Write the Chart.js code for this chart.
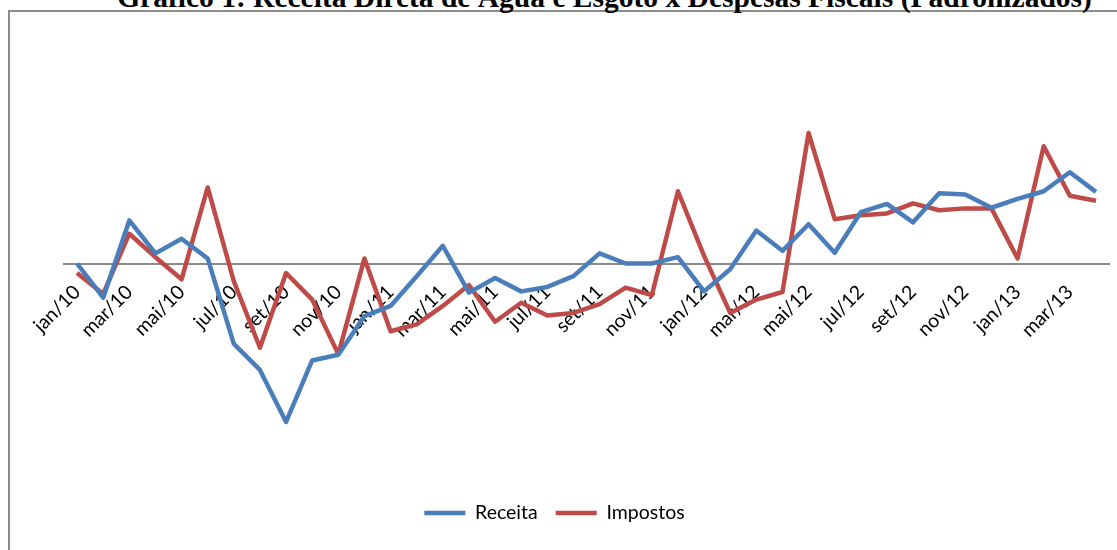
<!DOCTYPE html>
<html>
<head>
<meta charset="utf-8">
<script src="https://cdn.jsdelivr.net/npm/chart.js@4/dist/chart.umd.min.js"></script>
<style>
  html, body { margin: 0; padding: 0; background: #fff; overflow: hidden; width: 1117px; height: 550px; }
  #frame { position: absolute; left: 8px; top: 10px; width: 1300px; height: 700px;
           border-left: 2px solid #8c8c8c; border-top: 2px solid #8c8c8c; }
  #title { position: absolute; left: 46px; top: -17px; width: 1117px; text-align: center;
           font: bold 29.5px "Liberation Serif", serif; line-height: 29.5px; white-space: nowrap; color: #000; }
  #wrap { position: absolute; left: 0; top: 0; width: 1117px; height: 550px; }
</style>
</head>
<body>
<div id="frame"></div>
<div id="title">Gráfico 1: Receita Direta de Água e Esgoto x Despesas Fiscais (Padronizados)</div>
<div id="wrap"><canvas id="chart" width="1117" height="550"></canvas></div>
<script>
// Monthly categories, jan/2010 – abr/2013
const categories = [
  'jan/10','fev/10','mar/10','abr/10','mai/10','jun/10','jul/10','ago/10','set/10','out/10','nov/10','dez/10',
  'jan/11','fev/11','mar/11','abr/11','mai/11','jun/11','jul/11','ago/11','set/11','out/11','nov/11','dez/11',
  'jan/12','fev/12','mar/12','abr/12','mai/12','jun/12','jul/12','ago/12','set/12','out/12','nov/12','dez/12',
  'jan/13','fev/13','mar/13','abr/13'
];

// Standardized series (z-scores)
const receita = [
  0.00, -0.54, 0.68, 0.16, 0.39, 0.08, -1.27, -1.68, -2.50, -1.53, -1.44, -0.83,
  -0.67, -0.20, 0.28, -0.46, -0.23, -0.44, -0.37, -0.20, 0.16, 0.00, 0.00, 0.10,
  -0.44, -0.09, 0.52, 0.20, 0.62, 0.17, 0.81, 0.94, 0.65, 1.11, 1.09, 0.88,
  1.02, 1.14, 1.44, 1.13
];
const impostos = [
  -0.15, -0.48, 0.47, 0.10, -0.25, 1.20, -0.28, -1.33, -0.15, -0.57, -1.43, 0.08,
  -1.07, -0.96, -0.67, -0.34, -0.92, -0.62, -0.82, -0.78, -0.64, -0.38, -0.50, 1.14,
  0.12, -0.78, -0.57, -0.45, 2.06, 0.70, 0.76, 0.79, 0.95, 0.84, 0.87, 0.87,
  0.08, 1.85, 1.07, 0.99
];

const axisFont = { family: 'Lato', size: 19.5 };

new Chart(document.getElementById('chart'), {
  type: 'line',
  data: {
    labels: categories,
    datasets: [
      { label: 'Receita', data: receita, borderColor: '#4A7EBB', backgroundColor: '#4A7EBB',
        borderWidth: 4.5, pointRadius: 0, tension: 0, borderJoinStyle: 'round' },
      { label: 'Impostos', data: impostos, borderColor: '#BE4B48', backgroundColor: '#BE4B48',
        borderWidth: 4.5, pointRadius: 0, tension: 0, borderJoinStyle: 'round' }
    ]
  },
  options: {
    responsive: false,
    animation: false,
    layout: { padding: { top: 41.75, bottom: 17.25, left: 0, right: 8 } },
    plugins: {
      legend: {
        position: 'bottom',
        labels: {
          usePointStyle: true, pointStyle: 'line', pointStyleWidth: 41,
          padding: 18, color: '#000', font: axisFont
        }
      },
      tooltip: { enabled: false },
      title: { display: false }
    },
    scales: {
      x: {
        position: { y: 0 },
        offset: true,
        grid: { display: false, drawTicks: false },
        border: { display: true, color: '#8a8a8a', width: 2 },
        ticks: {
          autoSkip: false, minRotation: 45, maxRotation: 45, padding: 17,
          color: '#000', font: axisFont,
          callback: (value, index) => (index % 2 === 0 ? categories[index] : null)
        },
        afterFit: (scale) => { scale.height = 0; }
      },
      y: {
        min: -3.5, max: 3.5,
        grid: { display: false },
        border: { display: false },
        ticks: { display: false },
        afterFit: (scale) => { scale.width = 64; }
      }
    }
  }
});
</script>
</body>
</html>
